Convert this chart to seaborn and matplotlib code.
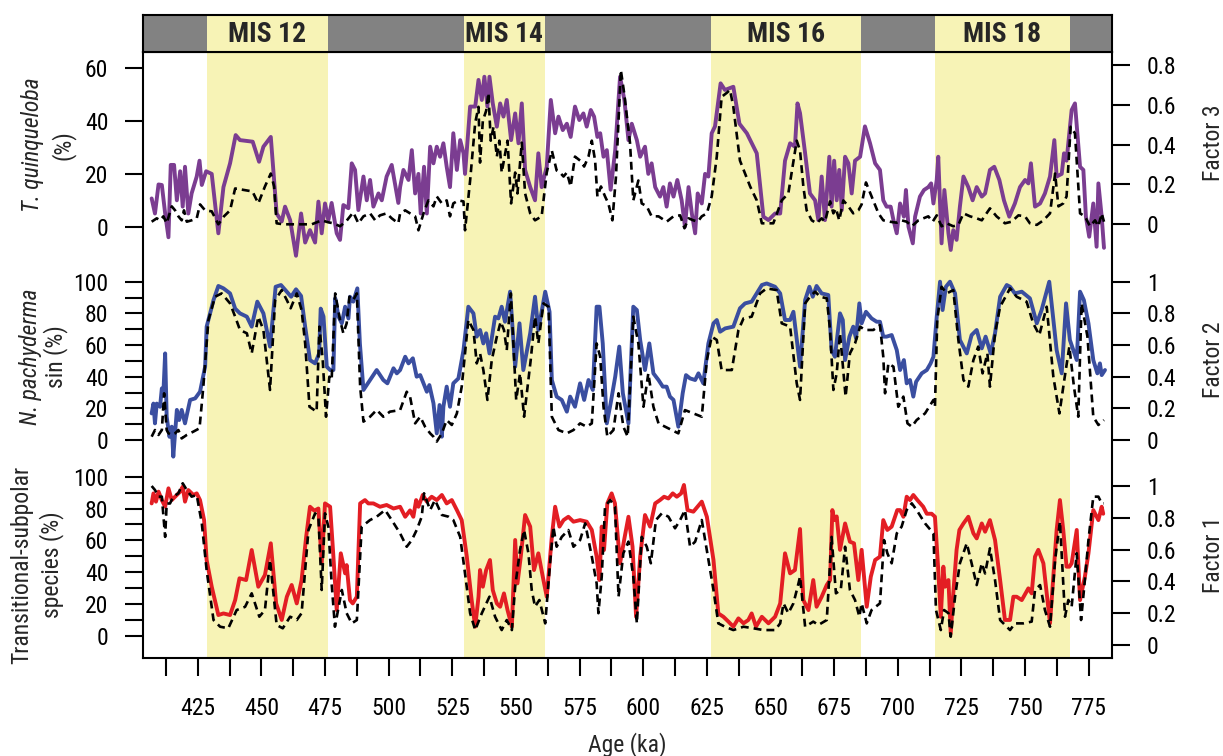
import numpy as np
import pandas as pd
import seaborn as sns
import matplotlib
matplotlib.use("Agg")
import matplotlib.pyplot as plt
from matplotlib import font_manager

# ---------------- data (Age ka, value) ----------------
mis_labels = ["MIS 12", "MIS 14", "MIS 16", "MIS 18"]
mis_start = [428.5, 529.6, 626.5, 714.6]
mis_end = [476.3, 561.4, 685.5, 767.6]

x_major = [425, 450, 475, 500, 525, 550, 575, 600, 625, 650, 675, 700, 725, 750, 775]

# T. quinqueloba (%)
t_quinqueloba = [
    (406.9, 10.7), (408.2, 5), (409.6, 16), (410.9, 15.8), (412.2, 5), (413.5, -4), (414.4, 23.4), (415.7, 23.4),
    (416.8, 10), (418.1, 21), (419.1, 7.6), (420.0, 22.7), (421.3, 5), (422.6, 12.6), (424.6, 19), (425.7, 25),
    (426.6, 15.8), (428.3, 21), (430.5, 20), (433.1, -2.5), (435.1, 15), (437.7, 24), (439.9, 34.7), (441.6, 32.8),
    (446.6, 32.2), (449.1, 24.6), (450.8, 30.3), (453.7, 34), (456.0, 5), (458.0, 2), (459.3, 7.6), (461.3, 2.5),
    (463.6, -11), (465.6, 5), (467.2, -6), (469.1, -1.3), (471.1, -6), (472.4, 9.5), (473.7, -2.5), (475.0, 8.8),
    (476.3, 2.5), (477.6, 9), (479.6, -2.5), (480.9, -5), (482.2, 8.2), (484.2, 7), (485.5, 24), (486.8, 21.5),
    (488.1, 6.3), (490.1, 19), (491.4, 10), (492.7, 17.7), (494.0, 7.6), (496.0, 12.6), (497.3, 10), (499.2, 19),
    (501.2, 23.4), (503.8, 9), (504.5, 15), (505.8, 21.5), (507.8, 17.7), (509.1, 29), (510.4, 12.6), (511.7, 20),
    (512.6, 5), (513.9, 22.7), (515.0, 5), (516.3, 30.3), (517.6, 24), (518.9, 30.3), (520.2, 26.5), (521.5, 31.6),
    (522.8, 22.7), (524.1, 15), (525.4, 35.4), (526.8, 21.5), (528.1, 32.8), (529.4, 27.8), (530.0, 20), (532.0, 45.5),
    (534.0, 45.5), (535.3, 55.6), (536.6, 48), (537.6, 56.8), (538.8, 45.5), (539.6, 56.8), (540.9, 46.7), (542.5, 37.9),
    (543.8, 46.7), (545.1, 41.7), (546.4, 48), (548.1, 32.8), (549.7, 42.9), (551.0, 31.6), (552.3, 46.7), (553.6, 21.5),
    (555.6, 15), (557.5, 10), (558.8, 27.8), (560.1, 15), (562.1, 22.7), (563.7, 48), (565.4, 35.4), (566.7, 41.7),
    (568.4, 36.6), (570.0, 39), (571.5, 34), (573.2, 45.5), (574.9, 40.4), (576.5, 42.9), (577.8, 37.9), (579.4, 44.2),
    (580.7, 41.7), (582.0, 34), (583.1, 35.4), (584.4, 26.5), (585.7, 29), (587.2, 14), (589.0, 29), (590.9, 56.8),
    (592.6, 48), (594.2, 32.8), (595.5, 39), (597.5, 32.8), (598.8, 26.5), (600.7, 30.3), (602.0, 20), (603.3, 24),
    (604.7, 15), (606.6, 11.4), (607.9, 15), (609.2, 7.6), (610.5, 16.4), (611.9, 11.4), (613.4, 17.7), (615.1, 10),
    (616.4, 0), (617.8, 15), (619.1, 5), (620.4, -2.5), (621.4, 12.6), (623.0, 8.8), (624.3, 20), (625.6, 19),
    (626.9, 35.4), (628.2, 38), (630.4, 54.3), (632.1, 51.8), (635.4, 53), (637.8, 39), (640.7, 35.4), (644.6, 27.8),
    (647.2, 3.8), (649.2, 2.5), (651.8, 5), (653.8, 5), (655.7, 25), (657.7, 31.6), (659.6, 30.3), (660.6, 46.7),
    (661.6, 43), (663.6, 27.8), (665.5, 12.6), (667.5, 10), (668.8, 2.5), (670.1, 19), (671.4, 2.5), (673.1, 26.5),
    (674.0, 7.6), (675.0, 25), (676.0, 10), (677.0, 21.5), (678.0, 6.3), (679.3, 26.5), (680.6, 24), (681.9, 12.6),
    (683.2, 25), (685.2, 26.5), (687.1, 38), (689.1, 31.6), (691.1, 24), (693.0, 21.5), (694.3, 10), (695.6, 7.6),
    (697.2, 7.6), (698.3, 2.5), (699.6, -2.5), (700.9, 8.8), (702.4, 3.8), (703.2, 13.9), (704.2, 0), (705.9, -6.3),
    (706.8, 3.8), (708.7, 11.4), (710.3, 13.9), (712.0, 15), (713.1, 16.4), (714.0, 8.8), (715.3, 17.7), (715.9, 26.5),
    (717.2, -6.3), (718.3, 13.9), (719.9, -2.5), (720.8, -8.8), (721.8, -1.3), (723.1, -5), (724.4, 7.6), (725.8, 19),
    (727.7, 15), (729.4, 10), (731.0, 15), (733.0, 11.4), (734.3, 12.6), (736.2, 21.5), (737.9, 22.7), (739.9, 17.7),
    (741.7, 10), (743.8, 3.8), (746.0, 8.8), (748.0, 15), (750.0, 17.7), (751.3, 16.4), (752.3, 24), (753.9, 7.6),
    (755.9, 8.8), (757.8, 12.6), (759.8, 19), (761.5, 32.8), (762.4, 19), (764.4, 20), (765.3, 27.8), (766.3, 25),
    (768.3, 44.2), (769.6, 46.7), (771.6, 22.7), (772.9, 21.5), (773.9, 3.8), (775.2, -3.8), (776.8, 8.8), (778.1, -7.6),
    (778.8, 16.4), (780.1, 3.8), (781.0, -8),
]

# Factor 3
factor3 = [
    (406.9, 0.013), (408.9, 0.03), (410.2, 0.02), (411.5, 0.04), (412.8, 0.005), (414.8, 0.09), (416.1, 0.07),
    (417.4, 0.04), (418.7, 0.02), (419.6, 0.07), (420.7, 0.013), (422.6, 0.02), (424.6, 0.03), (425.9, 0.1),
    (427.9, 0.07), (430.5, 0.065), (433.1, 0.0), (435.3, 0.04), (437.7, 0.07), (439.7, 0.18), (444.3, 0.17),
    (446.5, 0.165), (448.8, 0.105), (451.4, 0.19), (453.7, 0.255), (455.0, 0.19), (456.0, 0.005), (458.6, 0.0),
    (461.9, 0.0), (465.2, 0.0), (469.8, 0.0), (471.7, 0.01), (473.7, 0.02), (476.3, 0.01), (478.3, 0.005),
    (480.9, -0.01), (483.5, 0.018), (486.1, 0.06), (488.1, 0.005), (490.1, 0.04), (492.7, 0.055), (494.7, 0.02),
    (496.6, 0.045), (499.2, 0.055), (501.2, 0.03), (503.8, 0.005), (504.5, 0.055), (506.5, 0.07), (508.4, 0.055),
    (510.4, 0.04), (511.7, -0.03), (513.7, 0.055), (515.6, 0.12), (517.6, 0.09), (518.9, 0.14), (520.9, 0.105),
    (522.8, 0.12), (524.1, 0.04), (525.4, 0.105), (527.4, 0.12), (529.4, 0.115), (530.0, -0.03), (532.0, 0.22),
    (534.0, 0.51), (535.3, 0.59), (535.9, 0.31), (537.0, 0.52), (538.3, 0.57), (539.2, 0.66), (540.1, 0.42),
    (541.2, 0.49), (542.5, 0.34), (543.5, 0.42), (544.4, 0.26), (546.7, 0.42), (548.1, 0.105), (549.7, 0.26),
    (550.6, 0.155), (552.3, 0.41), (553.6, 0.155), (555.6, 0.055), (557.5, 0.02), (560.1, 0.04), (562.1, 0.26),
    (564.1, 0.37), (566.0, 0.27), (567.3, 0.26), (568.7, 0.24), (570.0, 0.26), (571.5, 0.19), (573.2, 0.34),
    (575.2, 0.32), (576.8, 0.29), (578.5, 0.34), (579.8, 0.42), (581.1, 0.32), (582.0, 0.14), (583.4, 0.19),
    (585.0, 0.14), (586.3, 0.105), (587.9, 0.02), (589.3, 0.24), (591.2, 0.775), (592.5, 0.66), (594.8, 0.41),
    (596.1, 0.12), (598.1, 0.22), (599.4, 0.105), (601.4, 0.09), (603.3, 0.04), (606.0, 0.04), (609.2, 0.013),
    (611.9, 0.04), (614.5, 0.045), (616.2, -0.02), (617.8, 0.03), (619.7, 0.02), (621.4, 0.013), (623.0, 0.04),
    (625.0, 0.055), (626.9, 0.14), (628.9, 0.34), (630.8, 0.64), (632.8, 0.66), (634.1, 0.675), (635.4, 0.59),
    (638.0, 0.32), (642.0, 0.19), (644.6, 0.12), (646.6, 0.005), (651.1, 0.005), (654.4, 0.12), (657.0, 0.155),
    (660.3, 0.42), (661.6, 0.37), (662.9, 0.19), (664.2, 0.07), (666.2, 0.02), (668.1, 0.005), (670.1, 0.03),
    (671.4, 0.013), (673.4, 0.115), (674.7, 0.055), (675.7, 0.08), (677.0, 0.02), (678.6, 0.12), (680.6, 0.09),
    (682.5, 0.055), (684.5, 0.07), (685.8, 0.1), (687.5, 0.21), (689.7, 0.14), (692.4, 0.055), (694.3, 0.02),
    (696.9, 0.013), (699.6, 0.008), (701.5, 0.02), (703.5, 0.013), (705.5, -0.01), (708.1, 0.02), (710.0, 0.03),
    (712.0, 0.04), (713.7, 0.013), (715.3, 0.045), (717.2, -0.01), (719.2, 0.005), (721.8, -0.01), (723.8, -0.003),
    (725.8, 0.055), (728.4, 0.04), (731.0, 0.03), (733.0, 0.02), (736.2, 0.08), (738.8, 0.04), (742.1, 0.005),
    (744.7, 0.013), (747.4, 0.045), (750.0, 0.04), (751.9, 0.005), (754.6, -0.003), (757.2, 0.02), (759.8, 0.055),
    (761.8, 0.255), (763.1, 0.09), (765.0, 0.105), (766.3, 0.14), (767.9, 0.49), (769.6, 0.457), (771.6, 0.055),
    (773.5, 0.04), (775.5, -0.01), (777.5, 0.02), (778.8, -0.01), (780.1, 0.055), (781.0, 0.013),
]

# N. pachyderma sin (%)
n_pachyderma = [
    (406.9, 16.8), (407.6, 23), (408.2, 10.5), (408.9, 23), (410.2, 21), (410.9, 32.6), (411.5, 29.5), (412.2, 54.7),
    (412.8, 14.7), (413.9, 2), (414.8, 8.4), (415.4, -10.5), (416.8, 19), (417.7, 12.6), (418.7, 19), (420.0, 10.5),
    (422.0, 25.3), (424.0, 26.3), (425.9, 30.5), (427.9, 46.3), (428.5, 71.6), (431.2, 88.4), (433.1, 97.3),
    (435.1, 95.8), (437.7, 92.6), (439.7, 83), (441.6, 80), (444.3, 77.9), (446.2, 71.6), (448.4, 87.4), (450.8, 80),
    (453.4, 59), (455.6, 96.8), (457.7, 97.9), (460.0, 93.7), (461.7, 90.5), (463.6, 95.2), (465.6, 91), (467.2, 71.6),
    (469.1, 50.5), (471.1, 48.4), (472.7, 54.7), (473.3, 83), (474.4, 78), (475.7, 46.3), (477.0, 44.2), (478.3, 44.2),
    (479.0, 89.5), (480.3, 78), (481.6, 73.7), (482.9, 84.2), (484.2, 76.8), (484.8, 90.5), (486.1, 87.4),
    (487.7, 95.8), (488.7, 61), (490.1, 31.6), (492.7, 37.9), (495.3, 44.2), (497.9, 37.9), (499.5, 35.8),
    (501.9, 45.3), (503.2, 42.1), (504.5, 44.2), (506.5, 52.6), (507.8, 48.4), (509.5, 51.6), (511.0, 40), (512.4, 41),
    (513.7, 35.8), (515.0, 30.5), (516.0, 34.7), (517.6, 23.2), (518.9, 4.2), (520.0, 22.1), (520.9, 2.1), (521.5, 21),
    (522.8, 33.7), (524.1, 21), (525.4, 35.8), (527.4, 38.9), (529.4, 56.8), (531.3, 84.2), (533.3, 80), (534.6, 65.3),
    (535.9, 69.5), (537.2, 61), (538.3, 67.4), (539.6, 54.7), (541.8, 77.9), (543.1, 76.8), (544.4, 84.2),
    (545.7, 74.7), (547.7, 93.7), (549.7, 46.3), (551.4, 73.7), (552.9, 44.2), (555.6, 67.4), (557.5, 90.5),
    (558.8, 69.5), (560.1, 81), (561.5, 93.7), (563.2, 81), (564.1, 37.9), (566.0, 27.4), (568.0, 25.3), (570.0, 17.9),
    (571.3, 27.4), (573.2, 21), (575.2, 35.8), (576.8, 25.3), (578.5, 37.9), (580.2, 31.6), (581.7, 84.2),
    (582.8, 84.2), (584.1, 61), (585.7, 10.5), (587.2, 23.2), (589.0, 40), (590.6, 59), (592.0, 29.5), (594.2, 10.5),
    (596.1, 84.2), (597.5, 82.1), (598.8, 63.2), (600.7, 44.2), (602.4, 61), (604.0, 42.1), (606.0, 37.9),
    (607.7, 33.7), (609.2, 33.7), (610.5, 27.4), (611.9, 25.3), (613.8, 8.4), (615.5, 29.5), (616.8, 41),
    (618.4, 38.9), (620.4, 37.9), (621.7, 42.1), (623.6, 35.8), (625.6, 61), (627.6, 73.7), (628.9, 75.8),
    (630.2, 68.4), (632.2, 70.5), (635.4, 71.6), (638.0, 83.2), (640.0, 86.3), (642.6, 87.4), (646.6, 97.9),
    (648.5, 98.9), (651.8, 96.8), (653.8, 92.6), (655.7, 75.8), (657.7, 75.8), (659.0, 81), (661.6, 46.3),
    (663.6, 88.4), (665.3, 96.8), (666.6, 90.5), (668.1, 97.3), (670.1, 92.6), (672.7, 91.6), (674.0, 56.8),
    (675.3, 52.6), (677.3, 80), (678.4, 75.8), (679.3, 50.5), (681.0, 65.3), (682.5, 71.6), (683.6, 64.2),
    (684.9, 86.3), (685.8, 73.7), (687.5, 81), (689.7, 76.8), (691.7, 74.7), (693.0, 74.7), (694.3, 65.3),
    (695.6, 65.3), (697.6, 66.3), (699.6, 56.8), (700.9, 44.2), (702.4, 50.5), (703.5, 35.8), (704.8, 37.9),
    (706.1, 27.4), (707.2, 36.8), (709.4, 42.1), (711.4, 44.2), (712.9, 48.4), (714.0, 52.6), (715.3, 77.9),
    (716.6, 100), (717.6, 82.1), (718.9, 96.8), (720.5, 100), (722.5, 92.6), (724.4, 63.2), (727.1, 54.7),
    (729.0, 66.3), (731.0, 69.5), (733.0, 57.9), (734.5, 65.3), (736.5, 54.7), (738.2, 67.4), (740.2, 90.5),
    (742.8, 97.9), (744.1, 96.8), (746.0, 92.6), (748.7, 93.7), (751.9, 89.5), (754.6, 73.7), (756.5, 82.1),
    (759.5, 100), (762.4, 56.8), (764.4, 42.1), (766.1, 86.3), (767.6, 63.2), (770.3, 50.5), (771.6, 93.7),
    (773.1, 88.4), (774.9, 73.7), (776.8, 50.5), (778.4, 42.1), (779.4, 48.4), (780.1, 41), (781.4, 44.2),
]

# Factor 2
factor2 = [
    (406.9, 0.021), (408.2, 0.063), (409.6, 0.032), (410.9, 0.063), (411.8, 0.295), (412.8, 0.063), (413.5, 0.042),
    (414.8, 0.032), (416.1, 0.042), (417.4, 0.063), (418.7, 0.01), (420.7, 0.032), (423.3, 0.053), (425.7, 0.074),
    (427.2, 0.337), (429.2, 0.758), (431.8, 0.905), (434.4, 0.926), (437.7, 0.863), (439.7, 0.779), (441.6, 0.695),
    (444.3, 0.674), (446.2, 0.547), (448.8, 0.779), (450.8, 0.695), (452.1, 0.505), (453.4, 0.316), (455.4, 0.884),
    (458.0, 0.947), (460.0, 0.884), (461.5, 0.832), (463.9, 0.926), (465.8, 0.821), (467.2, 0.61), (468.9, 0.21),
    (471.7, 0.179), (472.8, 0.716), (474.1, 0.505), (475.4, 0.147), (476.7, 0.40), (477.6, 0.379), (479.0, 0.926),
    (480.9, 0.758), (482.2, 0.674), (483.5, 0.737), (484.6, 0.905), (486.1, 0.884), (487.5, 0.926), (488.8, 0.337),
    (490.1, 0.116), (492.7, 0.147), (495.3, 0.19), (497.9, 0.147), (500.5, 0.179), (504.5, 0.189), (507.1, 0.305),
    (508.4, 0.274), (510.4, 0.105), (512.4, 0.147), (514.3, 0.084), (516.3, 0.042), (517.6, 0.021), (518.9, -0.01),
    (520.9, 0.042), (522.8, 0.126), (524.8, 0.095), (526.8, 0.168), (528.7, 0.337), (531.3, 0.758), (533.3, 0.695),
    (534.6, 0.484), (535.9, 0.547), (537.2, 0.442), (538.8, 0.253), (540.5, 0.505), (542.5, 0.653), (544.0, 0.747),
    (545.3, 0.695), (546.4, 0.568), (548.0, 0.926), (550.1, 0.253), (551.6, 0.421), (553.2, 0.147), (555.8, 0.505),
    (557.5, 0.779), (558.8, 0.61), (560.8, 0.863), (562.8, 0.842), (564.1, 0.147), (566.7, 0.063), (570.0, 0.042),
    (572.6, 0.063), (575.2, 0.105), (577.8, 0.084), (579.8, 0.105), (581.7, 0.61), (583.1, 0.526), (584.4, 0.21),
    (585.9, 0.021), (588.3, 0.063), (590.3, 0.295), (592.2, 0.084), (593.9, 0.021), (596.1, 0.779), (598.1, 0.61),
    (600.1, 0.21), (602.0, 0.421), (604.0, 0.21), (606.0, 0.105), (608.6, 0.084), (611.2, 0.063), (613.8, 0.042),
    (616.4, 0.189), (619.7, 0.168), (623.0, 0.147), (625.0, 0.505), (626.9, 0.653), (628.9, 0.632), (630.8, 0.442),
    (634.8, 0.442), (637.4, 0.695), (639.4, 0.768), (642.6, 0.779), (645.9, 0.926), (648.5, 0.958), (652.4, 0.947),
    (654.4, 0.737), (657.7, 0.716), (660.3, 0.358), (661.6, 0.253), (663.6, 0.863), (665.5, 0.905), (667.5, 0.937),
    (669.5, 0.905), (672.1, 0.895), (673.4, 0.695), (674.7, 0.316), (676.0, 0.421), (677.3, 0.674), (679.5, 0.274),
    (681.2, 0.547), (683.2, 0.61), (685.2, 0.716), (687.1, 0.695), (690.4, 0.695), (693.0, 0.726), (694.3, 0.526),
    (695.0, 0.295), (696.3, 0.484), (698.3, 0.463), (700.2, 0.21), (702.2, 0.274), (703.8, 0.105), (705.5, 0.084),
    (707.4, 0.126), (710.7, 0.168), (714.0, 0.253), (714.6, 0.21), (715.5, 0.758), (717.2, 0.968), (719.2, 0.926),
    (721.8, 0.947), (723.8, 0.632), (725.8, 0.379), (727.7, 0.337), (729.7, 0.505), (731.6, 0.59), (733.3, 0.421),
    (735.2, 0.547), (736.2, 0.337), (738.2, 0.674), (740.2, 0.842), (744.1, 0.958), (746.7, 0.905), (750.6, 0.874),
    (753.2, 0.737), (755.6, 0.663), (758.5, 0.842), (761.1, 0.40), (763.5, 0.168), (765.4, 0.379), (767.4, 0.59),
    (769.2, 0.337), (770.9, 0.147), (772.2, 0.863), (774.5, 0.653), (776.8, 0.147), (778.8, 0.095), (781.0, 0.126),
]

# Transitional-subpolar species (%)
transitional = [
    (406.9, 83.2), (407.6, 89.5), (408.6, 84.3), (409.6, 90.6), (410.9, 85.3), (412.2, 81.1), (413.5, 92.7),
    (414.8, 85.3), (416.1, 87.4), (418.1, 90.6), (419.1, 93.7), (420.0, 84.3), (421.3, 91.6), (423.3, 88.5),
    (424.6, 89.5), (425.9, 85.3), (427.5, 72.7), (428.5, 47.6), (430.5, 30.8), (433.1, 13), (435.1, 14), (437.7, 13),
    (439.7, 22.4), (441.4, 36.1), (444.0, 35), (446.2, 53.9), (448.8, 30.8), (451.4, 38.2), (453.7, 58.1),
    (455.8, 20.3), (458.0, 9.9), (460.0, 24.5), (461.9, 31.9), (463.9, 20.3), (465.8, 35), (467.6, 62.3),
    (469.1, 81.1), (470.8, 78.6), (472.4, 80), (473.7, 45.5), (475.0, 83.2), (477.0, 81.1), (478.3, 49.7),
    (479.6, 16.1), (481.2, 51.8), (482.9, 39.2), (483.5, 44.4), (484.8, 22.4), (485.9, 20.3), (487.5, 24.5),
    (488.8, 83.2), (490.7, 85.3), (492.0, 83.2), (494.0, 83.2), (496.6, 81.1), (499.2, 82.2), (501.9, 80),
    (504.5, 81.1), (506.5, 74.8), (508.4, 78.8), (509.7, 74.8), (510.8, 85.3), (511.7, 81.1), (513.4, 88.5),
    (515.0, 84.3), (516.9, 87.4), (518.9, 85.3), (520.9, 88.5), (522.8, 83.2), (524.8, 85.3), (526.8, 79),
    (528.7, 72.7), (530.7, 49.7), (532.6, 22.4), (534.0, 5.7), (535.3, 24.5), (535.9, 41.3), (537.0, 30.8),
    (538.3, 41.3), (539.8, 47.6), (540.9, 28.7), (542.5, 20.3), (543.8, 18.2), (545.3, 26.6), (546.7, 16.1),
    (548.4, 5.7), (549.7, 60.2), (550.6, 32.9), (551.9, 49.7), (553.6, 75.9), (555.6, 68.6), (557.1, 41.3),
    (558.8, 51.8), (560.8, 35), (562.1, 24.5), (564.1, 62.3), (565.4, 81.1), (567.1, 68.6), (568.7, 72.7),
    (570.6, 74.8), (572.6, 71.7), (575.2, 72.7), (577.8, 71.7), (579.8, 66.5), (581.7, 49.7), (582.8, 35),
    (583.7, 68.6), (584.6, 53.9), (585.9, 83.2), (587.6, 89.5), (588.9, 83.2), (590.9, 45.5), (592.5, 60.2),
    (594.2, 74.8), (595.8, 56), (597.2, 11.9), (598.8, 49.7), (600.7, 75.9), (602.7, 68.6), (604.7, 83.2),
    (606.6, 85.3), (608.2, 87.4), (609.9, 86.3), (611.6, 89.5), (613.2, 87.4), (614.9, 89.5), (616.0, 94.8),
    (617.4, 79), (619.7, 78), (623.0, 84.3), (625.0, 74.8), (627.6, 47.6), (629.5, 14), (631.5, 11.9), (633.5, 8.8),
    (635.4, 5.7), (637.4, 10.9), (639.4, 7.8), (641.3, 9.9), (642.6, 14), (644.3, 5.7), (646.6, 11.9), (649.2, 7.8),
    (651.8, 11.9), (653.8, 20.3), (655.7, 51.8), (657.7, 39.2), (659.6, 41.3), (661.6, 67.1), (662.9, 22.4),
    (664.9, 16.1), (666.8, 35), (668.1, 18.2), (670.1, 24.5), (672.1, 31.9), (673.4, 35), (674.3, 79), (675.1, 72.7),
    (676.0, 75), (677.3, 54), (679.3, 70.6), (681.2, 59.1), (682.8, 58.1), (684.5, 35), (685.8, 54), (687.8, 18.2),
    (689.4, 37.1), (691.1, 47.6), (693.0, 49.7), (694.3, 72.7), (695.9, 66.5), (697.6, 68.6), (699.8, 79),
    (700.9, 79), (702.2, 74.8), (703.5, 87.4), (704.8, 85.3), (706.1, 88.5), (707.7, 85.3), (710.0, 81.1),
    (711.4, 76.7), (713.3, 76.7), (714.6, 74.8), (715.9, 41.3), (716.9, 11.9), (717.9, 43.4), (718.6, 30.8),
    (719.9, 35), (720.8, 1.5), (721.8, 26.6), (723.1, 54), (724.2, 66.5), (725.8, 70.6), (727.7, 74.8),
    (729.7, 64.4), (731.0, 61.2), (733.0, 70.6), (734.3, 65.4), (736.2, 72.7), (738.2, 60.2), (740.2, 35),
    (742.1, 9.9), (744.1, 9.9), (745.4, 24.5), (746.7, 24.5), (748.7, 22.4), (751.3, 29.8), (752.6, 26.6),
    (753.9, 49.7), (755.2, 54), (757.2, 45.5), (759.8, 7.8), (762.4, 66.5), (763.7, 85.3), (765.0, 66.5),
    (766.3, 43.4), (767.4, 43.4), (768.3, 45.5), (770.3, 66.5), (771.6, 22.4), (773.5, 37.1), (774.9, 51.8),
    (776.8, 79), (778.8, 72.7), (780.1, 81.1), (780.7, 76.7),
]

# Factor 1
factor1 = [
    (406.9, 1.0), (408.2, 0.975), (409.6, 0.933), (410.9, 0.933), (412.2, 0.68), (412.8, 0.89), (414.1, 0.89),
    (415.4, 0.933), (417.4, 0.954), (419.1, 1.017), (420.7, 0.975), (422.6, 0.933), (424.6, 0.943), (426.6, 0.765),
    (428.5, 0.47), (431.2, 0.157), (433.8, 0.115), (437.0, 0.105), (440.3, 0.22), (443.6, 0.24), (446.2, 0.325),
    (449.2, 0.178), (451.4, 0.22), (453.4, 0.535), (456.0, 0.126), (458.4, 0.105), (461.3, 0.178), (463.9, 0.157),
    (465.8, 0.2), (468.5, 0.723), (471.1, 0.828), (472.4, 0.807), (473.7, 0.346), (475.0, 0.828), (476.3, 0.744),
    (477.6, 0.388), (478.9, 0.115), (481.6, 0.346), (483.5, 0.2), (485.5, 0.136), (487.5, 0.157), (489.4, 0.744),
    (492.7, 0.786), (495.3, 0.807), (498.6, 0.849), (501.2, 0.786), (504.5, 0.702), (507.1, 0.618), (509.1, 0.66),
    (511.0, 0.723), (513.0, 0.807), (513.9, 0.954), (516.3, 0.849), (518.2, 0.912), (520.9, 0.818), (523.5, 0.807),
    (525.4, 0.786), (528.1, 0.68), (530.0, 0.45), (532.0, 0.2), (534.0, 0.094), (536.6, 0.2), (539.6, 0.304),
    (541.8, 0.178), (544.4, 0.094), (546.4, 0.157), (548.4, 0.094), (549.7, 0.367), (551.6, 0.597), (553.2, 0.723),
    (554.9, 0.577), (556.2, 0.346), (557.5, 0.241), (559.2, 0.283), (561.5, 0.136), (563.4, 0.514), (564.7, 0.744),
    (566.0, 0.618), (568.0, 0.68), (570.6, 0.723), (572.6, 0.618), (575.2, 0.66), (577.2, 0.765), (579.8, 0.556),
    (581.7, 0.388), (582.4, 0.2), (583.7, 0.43), (585.0, 0.87), (587.0, 0.912), (588.9, 0.87), (590.3, 0.304),
    (592.2, 0.577), (594.2, 0.65), (596.1, 0.43), (597.5, 0.136), (599.4, 0.68), (601.4, 0.618), (603.0, 0.514),
    (605.0, 0.786), (607.3, 0.828), (609.9, 0.807), (612.5, 0.734), (614.5, 0.786), (616.4, 0.849), (618.4, 0.618),
    (620.4, 0.65), (623.0, 0.786), (625.6, 0.535), (627.6, 0.346), (629.5, 0.136), (632.1, 0.115), (635.4, 0.094),
    (639.4, 0.115), (643.3, 0.105), (647.2, 0.094), (651.8, 0.094), (653.8, 0.136), (655.1, 0.262), (657.0, 0.2),
    (659.0, 0.262), (661.0, 0.388), (661.6, 0.43), (663.6, 0.115), (666.8, 0.147), (668.8, 0.126), (672.1, 0.157),
    (674.0, 0.68), (675.7, 0.325), (677.6, 0.346), (679.3, 0.618), (681.2, 0.346), (683.2, 0.283), (684.9, 0.178),
    (685.8, 0.262), (687.8, 0.136), (689.7, 0.22), (693.0, 0.262), (694.6, 0.66), (695.9, 0.577), (697.6, 0.514),
    (699.6, 0.702), (701.5, 0.744), (703.5, 0.849), (705.5, 0.891), (707.4, 0.849), (710.7, 0.765), (714.0, 0.702),
    (715.0, 0.22), (716.9, 0.094), (718.2, 0.22), (719.9, 0.2), (720.8, 0.052), (722.5, 0.304), (724.4, 0.514),
    (727.1, 0.64), (729.0, 0.514), (731.0, 0.377), (733.0, 0.514), (734.3, 0.45), (736.2, 0.608), (738.2, 0.409),
    (740.2, 0.157), (742.8, 0.115), (744.1, 0.094), (746.0, 0.136), (749.3, 0.136), (752.6, 0.147), (753.9, 0.346),
    (755.9, 0.377), (757.8, 0.22), (759.8, 0.115), (761.8, 0.535), (763.7, 0.776), (765.7, 0.178), (767.0, 0.283),
    (768.3, 0.241), (770.3, 0.577), (772.0, 0.157), (773.5, 0.409), (774.9, 0.66), (776.8, 0.933), (778.8, 0.933),
    (780.1, 0.891), (781.0, 0.891),
]

# ---------------- styling ----------------
sns.set_style("ticks")
avail = {f.name for f in font_manager.fontManager.ttflist}
FAM = "Liberation Sans"
for cand in ["Liberation Sans Narrow", "Arial Narrow", "Roboto Condensed", "Archivo Narrow",
             "PT Sans Narrow", "Open Sans Condensed", "Liberation Sans"]:
    if cand in avail:
        FAM = cand
        break
NARROW = FAM != "Liberation Sans"
FS = 17 if NARROW else 14
FS_MIS = 20 if NARROW else 17
plt.rcParams["font.family"] = [FAM, "DejaVu Sans"]
plt.rcParams["axes.linewidth"] = 1.5

YELLOW = "#f7f3b6"
GREY = "#828282"
PURPLE = "#7b3d91"
BLUE = "#3a4ea0"
RED = "#e31e24"
DASH = (0, (3.0, 1.9))

W, H = 1223, 756
fig = plt.figure(figsize=(W / 100, H / 100), dpi=100)


def rect(x0, y0, x1, y1):
    return [x0 / W, 1 - y1 / H, (x1 - x0) / W, (y1 - y0) / H]


PL, PR, PT, PB = 143, 1112, 52, 658
XLIM = (403.5, 784.15)

ax = fig.add_axes(rect(PL, PT, PR, PB))
ax.set_xlim(*XLIM)
ax.set_ylim(0, 1)
ax.set_yticks([])
for s in ax.spines.values():
    s.set_linewidth(1.5)
    s.set_color("black")
for a0, a1 in zip(mis_start, mis_end):
    ax.axvspan(a0, a1, color=YELLOW, lw=0, zorder=0)
ax.set_xticks(x_major)
ax.set_xticklabels([str(v) for v in x_major])
ax.set_xticks([v - 12.5 for v in x_major], minor=True)
ax.tick_params(axis="x", which="both", length=13, width=1.5, direction="out",
               pad=15, labelsize=FS, colors="black")

# MIS bar
axb = fig.add_axes(rect(PL, 15, PR, PT))
axb.set_xlim(*XLIM)
axb.set_ylim(0, 1)
axb.set_facecolor(GREY)
axb.set_xticks([])
axb.set_yticks([])
for s in axb.spines.values():
    s.set_linewidth(1.5)
    s.set_color("black")
for lab, a0, a1 in zip(mis_labels, mis_start, mis_end):
    axb.axvspan(a0, a1, color=YELLOW, lw=0)
    axb.text((a0 + a1) / 2, 0.47, lab, ha="center", va="center",
             fontsize=FS_MIS, fontweight="bold")


def ylim_for(v0, p0, v1, p1):
    s = (v1 - v0) / (p0 - p1)
    return v0 - (PB - p0) * s, v0 + (p0 - PT) * s


def panel(species, factor, color, lcal, rcal, lticks, llabels, rticks, rlabels):
    axl = fig.add_axes(rect(PL, PT, PR, PB))
    axl.patch.set_visible(False)
    dfl = pd.DataFrame(species, columns=["age", "val"])
    sns.lineplot(data=dfl, x="age", y="val", ax=axl, color=color, lw=2.8,
                 estimator=None, sort=False, legend=False)
    axl.set_xlim(*XLIM)
    axl.set_ylim(*ylim_for(*lcal))
    axl.set_xlabel("")
    axl.set_ylabel("")
    axl.set_xticks([])
    axl.set_yticks(lticks)
    axl.set_yticklabels(llabels)
    axl.tick_params(axis="y", length=13, width=1.5, pad=12, labelsize=FS, colors="black")
    for s in axl.spines.values():
        s.set_visible(False)

    axr = axl.twinx()
    dfr = pd.DataFrame(factor, columns=["age", "val"])
    sns.lineplot(data=dfr, x="age", y="val", ax=axr, color="black", lw=1.9,
                 linestyle=DASH, estimator=None, sort=False, legend=False)
    axr.set_xlim(*XLIM)
    axr.set_ylim(*ylim_for(*rcal))
    axr.set_ylabel("")
    axr.set_yticks(rticks)
    axr.set_yticklabels(rlabels)
    axr.tick_params(axis="y", length=13, width=1.5, pad=12, labelsize=FS, colors="black")
    for s in axr.spines.values():
        s.set_visible(False)
    return axl, axr


pct100 = list(range(0, 101, 10))
pct100_lab = [str(v) if v % 20 == 0 else "" for v in pct100]
f_ticks = [0, 0.2, 0.4, 0.6, 0.8, 1.0]
f_labs = ["0", "0.2", "0.4", "0.6", "0.8", "1"]

panel(t_quinqueloba, factor3, PURPLE, (0, 226.7, 60, 68.3), (0, 224.3, 0.8, 65),
      [0, 20, 40, 60], ["0", "20", "40", "60"], f_ticks[:5], f_labs[:5])
panel(n_pachyderma, factor2, BLUE, (0, 440, 100, 281.7), (0, 440, 1, 281.7),
      pct100, pct100_lab, f_ticks, f_labs)
panel(transitional, factor1, RED, (0, 635.7, 100, 476.7), (0, 645, 1, 486),
      pct100, pct100_lab, f_ticks, f_labs)


# axis titles
def ftext(x, y, s, rot=90, **kw):
    fig.text(x / W, 1 - y / H, s, rotation=rot, ha="center", va="center", fontsize=FS, **kw)


ftext(33, 145, "T. quinqueloba", style="italic")
ftext(63, 145, "(%)")
ftext(30, 357, "N. pachyderma", style="italic")
ftext(56, 357, "sin (%)")
ftext(22, 565, "Transitional-subpolar")
ftext(52, 565, "species (%)")
ftext(1213, 143, "Factor 3")
ftext(1213, 360, "Factor 2")
ftext(1213, 555, "Factor 1")
ftext(627.5, 745, "Age (ka)", rot=0)

fig.savefig("out.png", dpi=100)
